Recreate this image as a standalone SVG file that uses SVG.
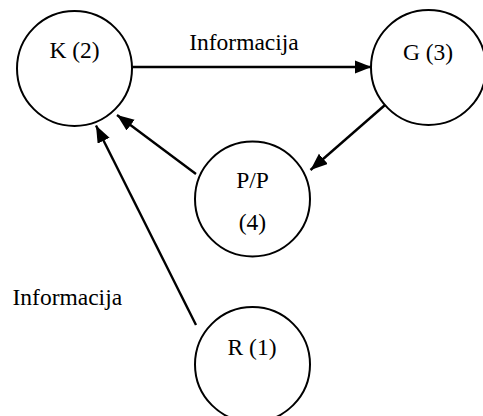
<svg xmlns="http://www.w3.org/2000/svg" width="483" height="416" viewBox="0 0 483 416">
<defs>
<marker id="ah" markerUnits="userSpaceOnUse" markerWidth="18" markerHeight="14" refX="17" refY="6.7" orient="auto">
<path d="M0,0 L17,6.7 L0,13.4 z" fill="#000"/>
</marker>
<style>
.n{fill:#fff;stroke:#000;stroke-width:2}
.t{font-family:"Liberation Serif","Times New Roman",serif;font-size:23.5px;fill:#000}
.e{stroke:#000;stroke-width:2.4;fill:none;marker-end:url(#ah)}
</style>
</defs>
<rect width="483" height="416" fill="#fff"/>
<g id="node-K"><circle class="n" cx="74.5" cy="68.5" r="57.5"/><text class="t" x="74.5" y="58" text-anchor="middle">K (2)</text></g>
<g id="node-G"><circle class="n" cx="428.5" cy="67.5" r="57.5"/><text class="t" x="428" y="60" text-anchor="middle">G (3)</text></g>
<g id="node-PP"><circle class="n" cx="252.5" cy="199" r="57.5"/><text class="t" x="252.5" y="188" text-anchor="middle">P/P</text><text class="t" x="252.5" y="230" text-anchor="middle">(4)</text></g>
<g id="node-R"><circle class="n" cx="252.5" cy="364.5" r="57.5"/><text class="t" x="252" y="355" text-anchor="middle">R (1)</text></g>
<g id="connectors">
<line class="e" x1="132" y1="67" x2="371.5" y2="67"/>
<line class="e" x1="385" y1="105" x2="310.5" y2="170"/>
<line class="e" x1="196" y1="174" x2="117" y2="115"/>
<line class="e" x1="196" y1="325" x2="96" y2="125.5"/>
<text class="t" x="244" y="50" text-anchor="middle">Informacija</text>
<text class="t" x="12.5" y="305">Informacija</text>
</g>
</svg>
